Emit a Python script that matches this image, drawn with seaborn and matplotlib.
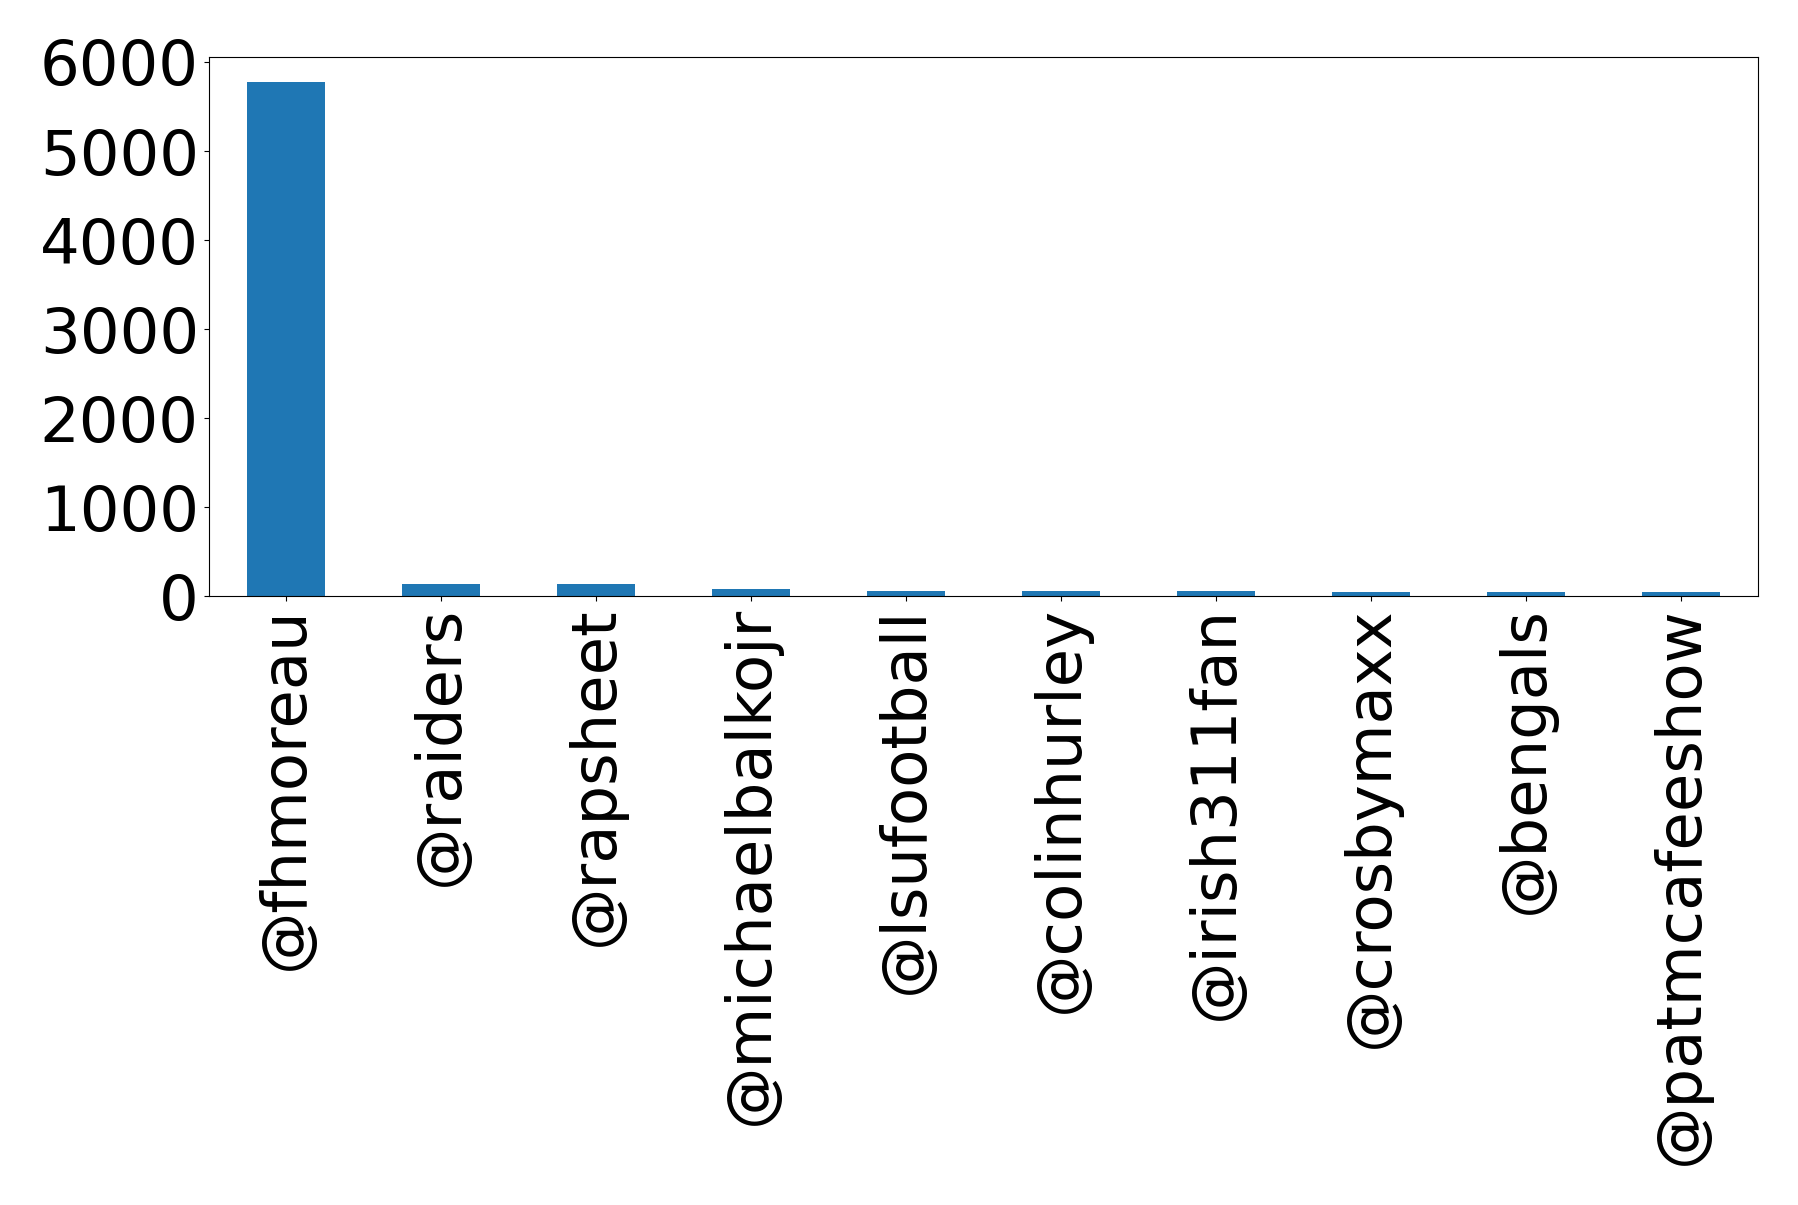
import matplotlib
matplotlib.use("Agg")
import matplotlib.pyplot as plt
import seaborn as sns

# Top mentioned accounts and their counts
accounts = ["@fhmoreau", "@raiders", "@rapsheet", "@michaelbalkojr",
            "@lsufootball", "@colinhurley", "@irish311fan", "@crosbymaxx",
            "@bengals", "@patmcafeeshow"]
counts = [5772, 145, 145, 84, 61, 61, 61, 50, 50, 50]

fontsize = 45

fig = plt.figure(figsize=(17.98, 12.05), dpi=100)
ax = fig.add_axes([0.116, 0.505, 0.862, 0.448])

sns.barplot(x=accounts, y=counts, color="#1f77b4", saturation=1,
            width=0.5, ax=ax)

ax.set_xlim(-0.5, len(accounts) - 0.5)
ax.set_ylim(0, 6060)
ax.set_yticks([0, 1000, 2000, 3000, 4000, 5000, 6000])
ax.tick_params(axis="both", labelsize=fontsize)
ax.tick_params(axis="x", labelrotation=90)
ax.set_xlabel("")
ax.set_ylabel("")

plt.savefig("out.png", dpi=100)
